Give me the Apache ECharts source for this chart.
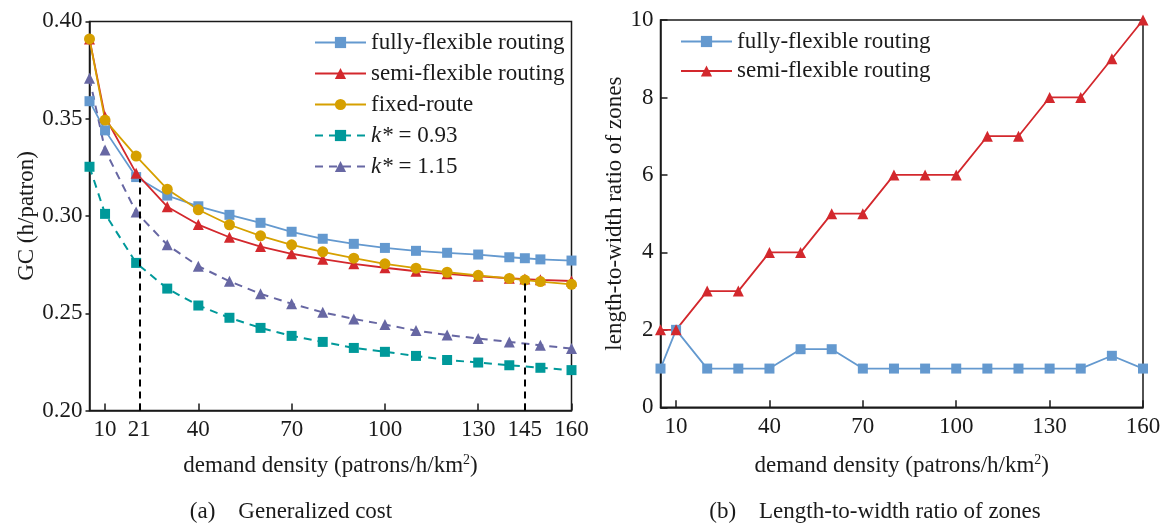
<!DOCTYPE html>
<html>
<head>
<meta charset="utf-8">
<script src="https://cdn.jsdelivr.net/npm/echarts@6/dist/echarts.min.js"></script>
<style>
  html, body { margin: 0; padding: 0; background: #fff; }
  #main { width: 1161px; height: 524px; }
</style>
</head>
<body>
<div id="main"></div>
<script>
// demand density values (patrons/h/km2)
var x_solid = [5, 10, 20, 30, 40, 50, 60, 70, 80, 90, 100, 110, 120, 130, 140, 145, 150, 160];
var x_dashed = [5, 10, 20, 30, 40, 50, 60, 70, 80, 90, 100, 110, 120, 130, 140, 150, 160];
var x_ratio = [5, 10, 20, 30, 40, 50, 60, 70, 80, 90, 100, 110, 120, 130, 140, 150, 160];

// (a) generalized cost, h/patron
var fully_gc = [0.359, 0.344, 0.320, 0.3105, 0.305, 0.3006, 0.2965, 0.2919, 0.2883, 0.2857, 0.2836, 0.2821, 0.2811, 0.2802, 0.2788, 0.2783, 0.2777, 0.2771];
var semi_gc = [0.391, 0.351, 0.322, 0.3048, 0.2956, 0.2891, 0.2843, 0.2806, 0.2778, 0.2754, 0.2734, 0.2716, 0.2703, 0.2690, 0.2680, 0.2676, 0.2672, 0.2666];
var fixed_gc = [0.391, 0.3493, 0.3308, 0.3138, 0.3032, 0.2955, 0.2898, 0.2852, 0.2816, 0.2783, 0.2754, 0.2732, 0.2711, 0.2695, 0.2679, 0.2671, 0.2663, 0.2649];
var k093_gc = [0.3253, 0.3011, 0.2759, 0.2627, 0.254, 0.2477, 0.2425, 0.2384, 0.2353, 0.2322, 0.2302, 0.2281, 0.226, 0.2247, 0.2233, 0.222, 0.2208];
var k115_gc = [0.3708, 0.3339, 0.302, 0.2852, 0.2742, 0.2665, 0.26, 0.2549, 0.2505, 0.2471, 0.2442, 0.2411, 0.2389, 0.2370, 0.2353, 0.2336, 0.2319];

// switch points marked with dashed verticals
var cut_x = [21, 145];
var cut_top = [0.319, 0.267];

// (b) length-to-width ratio of zones
var fully_ratio = [1, 2, 1, 1, 1, 1.5, 1.5, 1, 1, 1, 1, 1, 1, 1, 1, 1.33, 1];
var semi_ratio = [2, 2, 3, 3, 4, 4, 5, 5, 6, 6, 6, 7, 7, 8, 8, 9, 10];

var ticks_a = [10, 21, 40, 70, 100, 130, 145, 160];
var ticks_b = [10, 40, 70, 100, 130, 160];

var FONT = 'Liberation Serif';
var FS = 23;
var INK = '#1a1a1a';
var BLUE = '#6499cf', RED = '#d3282d', GOLD = '#d6a000', TEAL = '#00999a', PURPLE = '#6767a3';

function pairs(xs, ys) {
  return xs.map(function (x, i) { return [x, ys[i]]; });
}

function x_axis(idx, ticks, gap) {
  return {
    type: 'value', gridIndex: idx, min: 5, max: 160,
    name: '{t|demand density (patrons/h/km}{s|2}{t|)}',
    nameLocation: 'middle', nameGap: gap,
    nameTextStyle: {
      rich: {
        t: { fontFamily: FONT, fontSize: FS, color: INK },
        s: { fontFamily: FONT, fontSize: 14, color: INK, verticalAlign: 'top', padding: [0, 0, 11, 0] }
      }
    },
    axisLine: { lineStyle: { color: INK, width: 1.5 } },
    axisTick: { inside: true, length: 7, customValues: ticks, lineStyle: { color: INK, width: 1.5 } },
    axisLabel: { customValues: ticks, margin: 8, fontFamily: FONT, fontSize: FS, color: INK },
    splitLine: { show: false }
  };
}

function draw_chart() {
  var chart = echarts.init(document.getElementById('main'));

  var option = {
    animation: false,
    grid: [
      { left: 89.5, right: 589.5, top: 21.4, bottom: 113.4, show: true, borderColor: INK, borderWidth: 1.5, outerBoundsMode: 'none' },
      { left: 660.5, right: 18, top: 20, bottom: 116.7, show: true, borderColor: INK, borderWidth: 1.5, outerBoundsMode: 'none' }
    ],
    legend: [{
      orient: 'vertical', left: 309, top: 26,
      itemWidth: 51, itemHeight: 14, itemGap: 8,
      data: ['fully-flexible routing', 'semi-flexible routing', 'fixed-route', 'k* = 0.93', 'k* = 1.15'],
      formatter: function (name) {
        if (name.indexOf('k*') === 0) return '{i|k*} = ' + name.slice(5);
        return name;
      },
      textStyle: {
        fontFamily: FONT, fontSize: FS, color: INK,
        rich: { i: { fontFamily: FONT, fontSize: FS, fontStyle: 'italic', color: INK } }
      }
    }, {
      orient: 'vertical', left: 675, top: 25,
      itemWidth: 51, itemHeight: 14, itemGap: 6.5,
      data: ['fully-flexible routing', 'semi-flexible routing'],
      textStyle: { fontFamily: FONT, fontSize: FS, color: INK }
    }],
    xAxis: [x_axis(0, ticks_a, 43), x_axis(1, ticks_b, 46)],
    yAxis: [{
      type: 'value', gridIndex: 0, min: 0.2, max: 0.4, interval: 0.05,
      name: 'GC (h/patron)', nameLocation: 'middle', nameGap: 49,
      nameTextStyle: { fontFamily: FONT, fontSize: FS, color: INK },
      axisLine: { lineStyle: { color: INK, width: 1.5 } },
      axisTick: { inside: false, length: 4, lineStyle: { color: INK, width: 1.5 } },
      axisLabel: { margin: 7, fontFamily: FONT, fontSize: FS, color: INK, formatter: function (v) { return v.toFixed(2); } },
      splitLine: { show: false }
    }, {
      type: 'value', gridIndex: 1, min: 0, max: 10, interval: 2,
      name: 'length-to-width ratio of zones', nameLocation: 'middle', nameGap: 22,
      nameTextStyle: { fontFamily: FONT, fontSize: FS, color: INK },
      axisLine: { lineStyle: { color: INK, width: 1.5 } },
      axisTick: { inside: true, length: 7, lineStyle: { color: INK, width: 1.5 } },
      axisLabel: { margin: 7, fontFamily: FONT, fontSize: FS, color: INK },
      splitLine: { show: false }
    }],
    series: [
      {
        name: 'k* = 0.93', type: 'line', xAxisIndex: 0, yAxisIndex: 0,
        data: pairs(x_dashed, k093_gc),
        symbol: 'rect', symbolSize: 10,
        itemStyle: { color: TEAL },
        lineStyle: { color: TEAL, width: 2, type: [8, 6] }
      },
      {
        name: 'k* = 1.15', type: 'line', xAxisIndex: 0, yAxisIndex: 0,
        data: pairs(x_dashed, k115_gc),
        symbol: 'triangle', symbolSize: 11,
        itemStyle: { color: PURPLE },
        lineStyle: { color: PURPLE, width: 2, type: [8, 6] },
        markLine: {
          silent: true, symbol: 'none', label: { show: false },
          lineStyle: { color: '#000', width: 2, type: [7, 5] },
          data: cut_x.map(function (x, i) {
            return [{ coord: [x, 0.2] }, { coord: [x, cut_top[i]] }];
          })
        }
      },
      {
        name: 'fully-flexible routing', type: 'line', xAxisIndex: 0, yAxisIndex: 0,
        data: pairs(x_solid, fully_gc),
        symbol: 'rect', symbolSize: 10,
        itemStyle: { color: BLUE },
        lineStyle: { color: BLUE, width: 1.8 }
      },
      {
        name: 'semi-flexible routing', type: 'line', xAxisIndex: 0, yAxisIndex: 0,
        data: pairs(x_solid, semi_gc),
        symbol: 'triangle', symbolSize: 11,
        itemStyle: { color: RED },
        lineStyle: { color: RED, width: 1.8 }
      },
      {
        name: 'fixed-route', type: 'line', xAxisIndex: 0, yAxisIndex: 0,
        data: pairs(x_solid, fixed_gc),
        symbol: 'circle', symbolSize: 11,
        itemStyle: { color: GOLD },
        lineStyle: { color: GOLD, width: 1.8 }
      },
      {
        name: 'fully-flexible routing', type: 'line', xAxisIndex: 1, yAxisIndex: 1,
        data: pairs(x_ratio, fully_ratio),
        symbol: 'rect', symbolSize: 10,
        itemStyle: { color: BLUE },
        lineStyle: { color: BLUE, width: 1.8 }
      },
      {
        name: 'semi-flexible routing', type: 'line', xAxisIndex: 1, yAxisIndex: 1,
        data: pairs(x_ratio, semi_ratio),
        symbol: 'triangle', symbolSize: 11,
        itemStyle: { color: RED },
        lineStyle: { color: RED, width: 1.8 }
      }
    ],
    graphic: [
      { type: 'text', x: 291, y: 512, style: { text: '(a)    Generalized cost', font: FS + 'px "Liberation Serif"', fill: INK, textAlign: 'center', textVerticalAlign: 'middle' } },
      { type: 'text', x: 875, y: 512, style: { text: '(b)    Length-to-width ratio of zones', font: FS + 'px "Liberation Serif"', fill: INK, textAlign: 'center', textVerticalAlign: 'middle' } }
    ]
  };

  chart.setOption(option);
  window.addEventListener('resize', function () {
    chart.resize();
  });
}

draw_chart();
</script>
</body>
</html>
